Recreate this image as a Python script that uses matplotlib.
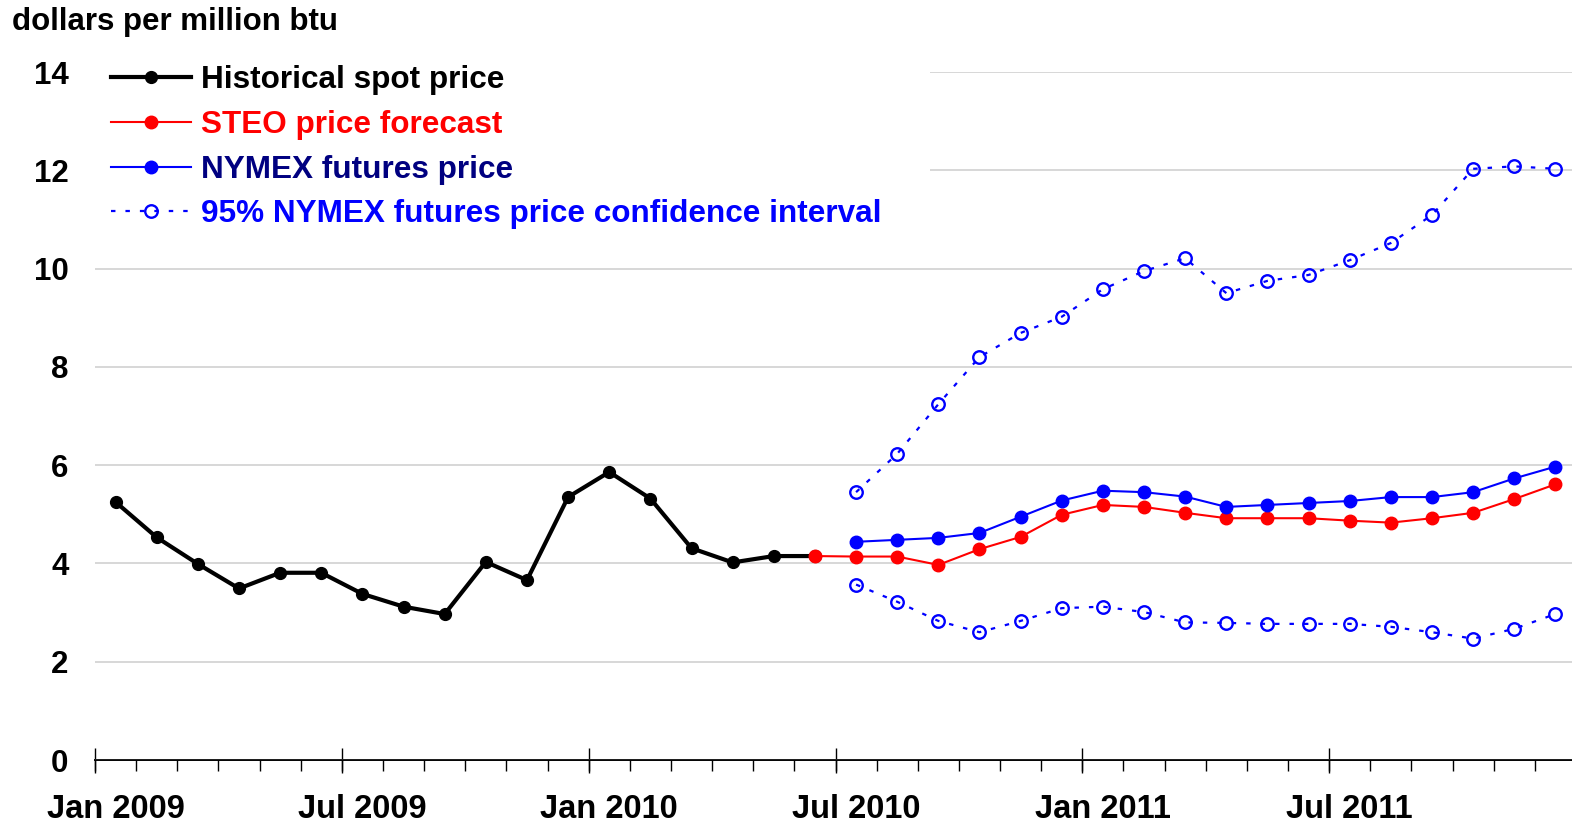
import numpy as np
import matplotlib
matplotlib.use("Agg")
import matplotlib.pyplot as plt
from matplotlib.lines import Line2D
from matplotlib.patches import Rectangle

# months counted from Jan 2009 (0) to Dec 2011 (35)
hist_months = list(range(0, 18))      # Jan 2009 - Jun 2010
steo_months = list(range(17, 36))     # Jun 2010 - Dec 2011
nymex_months = list(range(18, 36))    # Jul 2010 - Dec 2011

hist = [5.25, 4.53, 3.99, 3.49, 3.81, 3.81, 3.38, 3.12, 2.97, 4.03, 3.66,
        5.35, 5.86, 5.32, 4.31, 4.02, 4.15, 4.15]
steo = [4.15, 4.14, 4.14, 3.97, 4.29, 4.54, 4.99, 5.19, 5.15, 5.03, 4.92,
        4.92, 4.92, 4.87, 4.83, 4.92, 5.03, 5.31, 5.61]
nymex = [4.44, 4.48, 4.52, 4.62, 4.95, 5.28, 5.48, 5.45, 5.36, 5.15, 5.19,
         5.23, 5.27, 5.35, 5.35, 5.45, 5.73, 5.97]
ci_hi = [5.45, 6.23, 7.24, 8.20, 8.69, 9.02, 9.58, 9.95, 10.21, 9.50, 9.75,
         9.87, 10.17, 10.52, 11.09, 12.03, 12.08, 12.03]
ci_lo = [3.57, 3.22, 2.83, 2.60, 2.83, 3.09, 3.12, 3.01, 2.80, 2.79, 2.77,
         2.77, 2.77, 2.71, 2.60, 2.47, 2.67, 2.97]

label_months = [0, 6, 12, 18, 24, 30]
label_text = ["Jan 2009", "Jul 2009", "Jan 2010", "Jul 2010", "Jan 2011", "Jul 2011"]

plt.rcParams['font.family'] = ['Liberation Sans', 'DejaVu Sans']
plt.rcParams['font.weight'] = 'bold'

fig = plt.figure(figsize=(15.72, 8.27), dpi=100)
ax = fig.add_axes([95/1572, 67/827, 1481/1572, 688/827])

hx = np.array(hist_months) + 0.5
sx = np.array(steo_months) + 0.5
nx = np.array(nymex_months) + 0.5

ax.plot(hx, hist, color='black', lw=3, marker='o', ms=8.5, zorder=3)
ax.plot(sx, steo, color='#ff0000', lw=1.5, marker='o', ms=9, zorder=4)
ax.plot(nx, nymex, color='#0000ff', lw=1.5, marker='o', ms=9, zorder=4)
for ci in (ci_hi, ci_lo):
    ax.plot(nx, ci, color='#0000ff', lw=1.6, ls=(0, (2, 4.5)), marker='o', ms=9,
            mfc='none', mew=1.7, zorder=4)

ax.set_xlim(0, 36)
ax.set_ylim(0, 14)
ax.set_axisbelow(True)
ax.yaxis.grid(True, color='#d4d4d4', lw=1.3)

for s in ('left', 'top', 'right'):
    ax.spines[s].set_visible(False)
ax.spines['bottom'].set_linewidth(1.2)

ax.set_yticks(range(0, 15, 2))
ax.tick_params(axis='y', length=0, pad=19, labelsize=22.5)

# labels centred on the months, short ticks at every month boundary
ax.set_xticks(np.array(label_months) + 0.5)
ax.set_xticklabels(label_text, fontsize=23.5, fontweight='bold')
ax.tick_params(axis='x', which='major', length=0, pad=24.5)
ax.set_xticks(range(0, 37), minor=True)
ax.tick_params(axis='x', which='minor', direction='out', length=8, width=1)

sec = ax.secondary_xaxis(0)
sec.set_xticks(range(0, 37, 6))
sec.tick_params(direction='inout', length=18, width=1, labelbottom=False)
sec.spines['bottom'].set_linewidth(1.2)

# white area behind the legend hides the top gridlines
ax.add_patch(Rectangle((0, 10.6), 20.3, 3.9, facecolor='white', edgecolor='none',
                       zorder=1, clip_on=False))

handles = [
    Line2D([], [], color='black', lw=3, marker='o', ms=8.5),
    Line2D([], [], color='#ff0000', lw=1.5, marker='o', ms=9),
    Line2D([], [], color='#0000ff', lw=1.5, marker='o', ms=9),
    Line2D([], [], color='#0000ff', lw=1.6, ls=(0, (2, 4.5)), marker='o', ms=9,
           mfc='none', mew=1.7),
]
labels = ["Historical spot price", "STEO price forecast", "NYMEX futures price",
          "95% NYMEX futures price confidence interval"]
leg = ax.legend(handles, labels, loc='upper left', bbox_to_anchor=(111/1572, 1 - 65/827),
                bbox_transform=fig.transFigure, frameon=False, fontsize=22.7,
                handlelength=2.55, handletextpad=0.3, labelspacing=0.47,
                borderpad=0, borderaxespad=0, numpoints=1)
for t, c in zip(leg.get_texts(), ['black', '#ff0000', '#000080', '#0000ff']):
    t.set_color(c)

fig.text(12/1572, 1 - 22/827, "dollars per million btu", fontsize=22.5,
         fontweight='bold', ha='left', va='center')

fig.savefig("out.png", dpi=100)
